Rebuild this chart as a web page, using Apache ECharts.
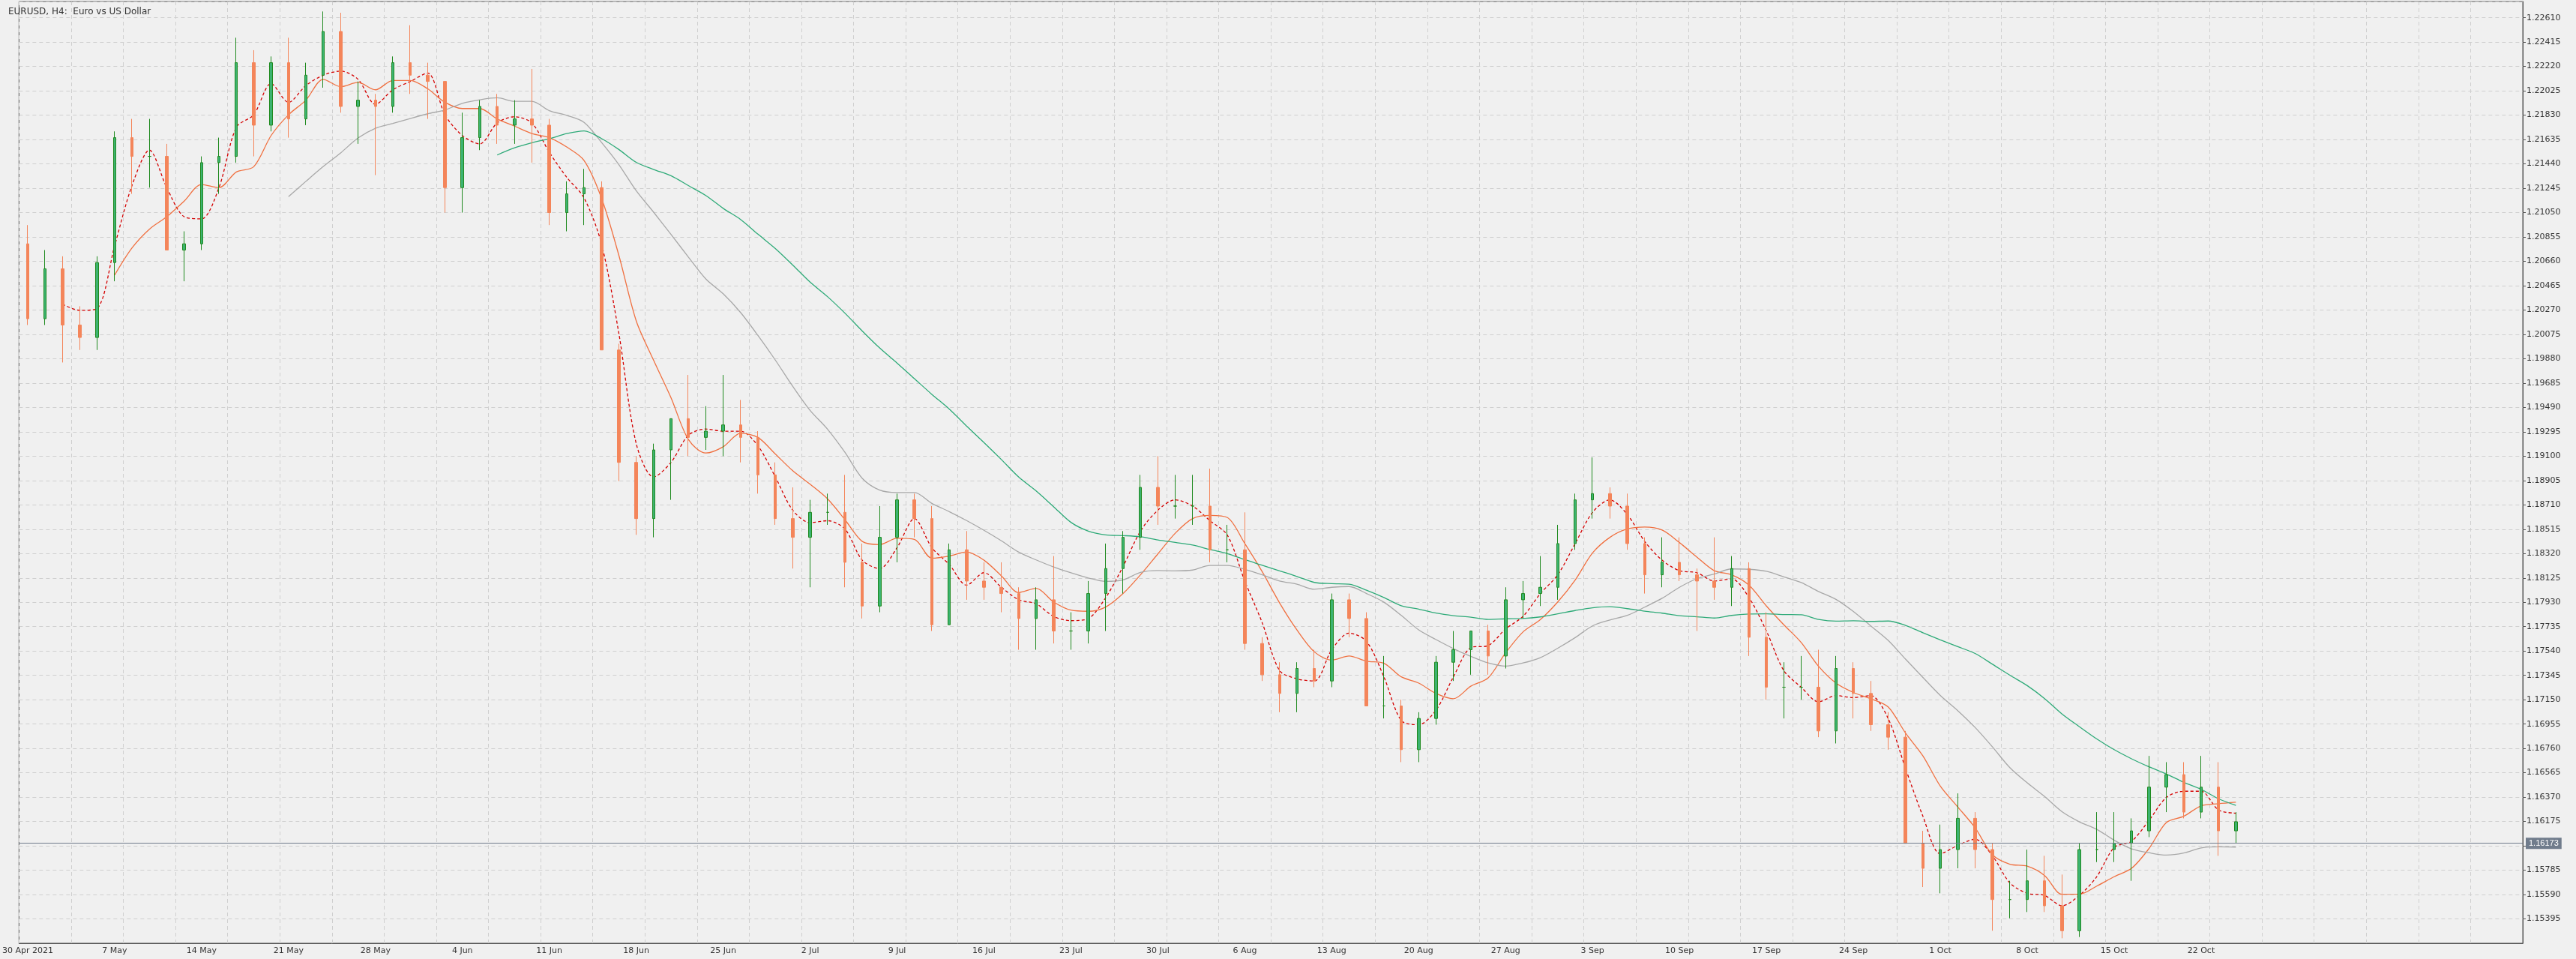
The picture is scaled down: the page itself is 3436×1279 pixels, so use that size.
<!DOCTYPE html>
<html>
  <head>
    <title></title>
    <meta charset="UTF-8" />
    <script src="https://cdn.jsdelivr.net/npm/echarts@6/dist/echarts.min.js"></script>
    <style>body{margin:0;background:#f0f0f0}</style>
  </head>
  <body>
    <div id="main"></div>
    <script>
      const width = 3436;
      const height = 1279;
      const main = document.getElementById('main');
      main.style.width = `${width}px`;
      main.style.height = `${height}px`;

      // one bar per trading day, 30 Apr 2021 .. 26 Oct 2021
      const dates = ['30 Apr 2021','3 May','4 May','5 May','6 May','7 May','10 May','11 May','12 May','13 May','14 May',
        '17 May','18 May','19 May','20 May','21 May','24 May','25 May','26 May','27 May','28 May',
        '31 May','1 Jun','2 Jun','3 Jun','4 Jun','7 Jun','8 Jun','9 Jun','10 Jun','11 Jun',
        '14 Jun','15 Jun','16 Jun','17 Jun','18 Jun','21 Jun','22 Jun','23 Jun','24 Jun','25 Jun',
        '28 Jun','29 Jun','30 Jun','1 Jul','2 Jul','5 Jul','6 Jul','7 Jul','8 Jul','9 Jul',
        '12 Jul','13 Jul','14 Jul','15 Jul','16 Jul','19 Jul','20 Jul','21 Jul','22 Jul','23 Jul',
        '26 Jul','27 Jul','28 Jul','29 Jul','30 Jul','2 Aug','3 Aug','4 Aug','5 Aug','6 Aug',
        '9 Aug','10 Aug','11 Aug','12 Aug','13 Aug','16 Aug','17 Aug','18 Aug','19 Aug','20 Aug',
        '23 Aug','24 Aug','25 Aug','26 Aug','27 Aug','30 Aug','31 Aug','1 Sep','2 Sep','3 Sep',
        '6 Sep','7 Sep','8 Sep','9 Sep','10 Sep','13 Sep','14 Sep','15 Sep','16 Sep','17 Sep',
        '20 Sep','21 Sep','22 Sep','23 Sep','24 Sep','27 Sep','28 Sep','29 Sep','30 Sep','1 Oct',
        '4 Oct','5 Oct','6 Oct','7 Oct','8 Oct','11 Oct','12 Oct','13 Oct','14 Oct','15 Oct',
        '18 Oct','19 Oct','20 Oct','21 Oct','22 Oct','25 Oct','26 Oct'];

      const opens = [1.2080,1.2020,1.2060,1.2015,1.2005,1.2065,1.2165,1.2150,1.2150,1.2075,1.2080,
        1.2145,1.2150,1.2225,1.2175,1.2225,1.2180,1.2215,1.2250,1.2190,1.2195,
        1.2190,1.2225,1.2215,1.2210,1.2125,1.2165,1.2190,1.2175,1.2180,1.2175,
        1.2105,1.2120,1.2125,1.1995,1.1905,1.1860,1.1915,1.1940,1.1925,1.1930,
        1.1935,1.1925,1.1895,1.1860,1.1845,1.1865,1.1865,1.1825,1.1790,1.1845,
        1.1875,1.1860,1.1775,1.1835,1.1810,1.1805,1.1800,1.1780,1.1795,1.1770,
        1.1770,1.1800,1.1820,1.1845,1.1885,1.1870,1.1870,1.1870,1.1835,1.1835,
        1.1760,1.1735,1.1720,1.1740,1.1730,1.1795,1.1780,1.1710,1.1710,1.1675,
        1.1700,1.1745,1.1755,1.1770,1.1750,1.1795,1.1800,1.1805,1.1840,1.1875,
        1.1880,1.1870,1.1840,1.1815,1.1825,1.1815,1.1810,1.1805,1.1820,1.1765,
        1.1725,1.1725,1.1725,1.1690,1.1740,1.1720,1.1695,1.1685,1.1600,1.1580,
        1.1595,1.1620,1.1595,1.1555,1.1555,1.1570,1.1550,1.1530,1.1595,1.1595,
        1.1600,1.1610,1.1645,1.1655,1.1625,1.1645,1.1610];
      const highs = [1.2095,1.2075,1.2070,1.2030,1.2070,1.2170,1.2180,1.2180,1.2160,1.2090,1.2150,
        1.2165,1.2245,1.2235,1.2230,1.2245,1.2225,1.2266,1.2265,1.2210,1.2200,
        1.2230,1.2255,1.2225,1.2210,1.2185,1.2195,1.2200,1.2195,1.2220,1.2180,
        1.2130,1.2140,1.2130,1.2000,1.1910,1.1920,1.1940,1.1975,1.1950,1.1975,
        1.1955,1.1930,1.1905,1.1885,1.1875,1.1880,1.1895,1.1840,1.1870,1.1880,
        1.1880,1.1870,1.1840,1.1850,1.1825,1.1825,1.1805,1.1805,1.1830,1.1785,
        1.1810,1.1840,1.1850,1.1895,1.1910,1.1895,1.1895,1.1900,1.1855,1.1865,
        1.1765,1.1745,1.1745,1.1755,1.1800,1.1800,1.1785,1.1750,1.1715,1.1705,
        1.1750,1.1770,1.1770,1.1775,1.1805,1.1810,1.1830,1.1855,1.1880,1.1909,
        1.1885,1.1880,1.1845,1.1845,1.1845,1.1820,1.1845,1.1830,1.1825,1.1785,
        1.1745,1.1750,1.1755,1.1750,1.1745,1.1730,1.1705,1.1690,1.1610,1.1615,
        1.1640,1.1625,1.1600,1.1570,1.1595,1.1590,1.1575,1.1600,1.1625,1.1625,
        1.1620,1.1670,1.1665,1.1665,1.1670,1.1665,1.1625];
      const lows = [1.2015,1.2015,1.1985,1.1995,1.1995,1.2050,1.2120,1.2125,1.2075,1.2050,1.2075,
        1.2120,1.2145,1.2150,1.2170,1.2165,1.2175,1.2205,1.2185,1.2160,1.2135,
        1.2185,1.2200,1.2180,1.2105,1.2105,1.2155,1.2160,1.2160,1.2145,1.2095,
        1.2090,1.2095,1.1995,1.1890,1.1847,1.1845,1.1875,1.1910,1.1915,1.1910,
        1.1905,1.1880,1.1855,1.1820,1.1805,1.1855,1.1805,1.1780,1.1785,1.1825,
        1.1845,1.1770,1.1775,1.1795,1.1795,1.1785,1.1755,1.1755,1.1760,1.1755,
        1.1760,1.1770,1.1800,1.1835,1.1855,1.1860,1.1855,1.1825,1.1825,1.1755,
        1.1730,1.1705,1.1705,1.1725,1.1725,1.1765,1.1710,1.1700,1.1665,1.1665,
        1.1695,1.1730,1.1735,1.1735,1.1740,1.1780,1.1790,1.1795,1.1835,1.1860,
        1.1860,1.1835,1.1800,1.1805,1.1810,1.1770,1.1795,1.1790,1.1750,1.1715,
        1.1700,1.1715,1.1685,1.1680,1.1700,1.1690,1.1675,1.1600,1.1565,1.1560,
        1.1580,1.1580,1.1530,1.1540,1.1545,1.1545,1.1524,1.1525,1.1585,1.1585,
        1.1570,1.1605,1.1625,1.1620,1.1620,1.1590,1.1600];
      const closes = [1.2020,1.2060,1.2015,1.2005,1.2065,1.2165,1.2150,1.2150,1.2075,1.2080,1.2145,
        1.2150,1.2225,1.2175,1.2225,1.2180,1.2215,1.2250,1.2190,1.2195,1.2190,
        1.2225,1.2215,1.2210,1.2125,1.2165,1.2190,1.2175,1.2180,1.2175,1.2105,
        1.2120,1.2125,1.1995,1.1905,1.1860,1.1915,1.1940,1.1925,1.1930,1.1935,
        1.1925,1.1895,1.1860,1.1845,1.1865,1.1865,1.1825,1.1790,1.1845,1.1875,
        1.1860,1.1775,1.1835,1.1810,1.1805,1.1800,1.1780,1.1795,1.1770,1.1770,
        1.1800,1.1820,1.1845,1.1885,1.1870,1.1870,1.1870,1.1835,1.1835,1.1760,
        1.1735,1.1720,1.1740,1.1730,1.1795,1.1780,1.1710,1.1710,1.1675,1.1700,
        1.1745,1.1755,1.1770,1.1750,1.1795,1.1800,1.1805,1.1840,1.1875,1.1880,
        1.1870,1.1840,1.1815,1.1825,1.1815,1.1810,1.1805,1.1820,1.1765,1.1725,
        1.1725,1.1725,1.1690,1.1740,1.1720,1.1695,1.1685,1.1600,1.1580,1.1595,
        1.1620,1.1595,1.1555,1.1555,1.1570,1.1550,1.1530,1.1595,1.1595,1.1600,
        1.1610,1.1645,1.1655,1.1625,1.1645,1.1610,1.16173];

      const lastPrice = 1.16173;
      const padDays = 16; // empty space right of the last bar

      const cats = dates.concat(Array(padDays).fill(''));
      const candles = dates.map((d, i) => [opens[i], closes[i], lows[i], highs[i]]);

      function sma(n) {
        return closes.map((c, i) => {
          if (i < n - 1) return '-';
          let s = 0;
          for (let k = i - n + 1; k <= i; k++) s += closes[k];
          return +(s / n).toFixed(5);
        });
      }

      const line = (name, data, color, type) => ({
        name, type: 'line', data, symbol: 'none', smooth: 0.3,
        lineStyle: { color, width: 1.3, type: type || 'solid' }, z: 3
      });

      const myChart = echarts.init(main);
      myChart.setOption({
        animation: false,
        backgroundColor: '#f0f0f0',
        title: {
          text: 'EURUSD, H4:  Euro vs US Dollar',
          left: 6, top: 5,
          textStyle: { fontSize: 12, fontWeight: 'normal', color: '#333', fontFamily: 'DejaVu Sans' }
        },
        grid: { left: 2, right: 71, top: 2, bottom: 21, show: true, borderColor: '#555', borderWidth: 1 },
        xAxis: {
          type: 'category',
          data: cats,
          boundaryGap: true,
          axisLine: { lineStyle: { color: '#555' } },
          axisTick: { interval: 4, alignWithLabel: true, lineStyle: { color: '#555' }, length: 4 },
          axisLabel: { interval: 4, color: '#333', fontSize: 11, fontFamily: 'DejaVu Sans', margin: 5 },
          splitLine: { show: true, interval: 2, lineStyle: { color: '#cfcfcf', type: [5, 4] } }
        },
        yAxis: {
          type: 'value',
          position: 'right',
          scale: true,
          min: 1.15200,
          max: 1.22740,
          interval: 0.00195,
          axisLine: { show: true, lineStyle: { color: '#555' } },
          axisTick: { show: true, lineStyle: { color: '#555' }, length: 4 },
          axisLabel: {
            color: '#333', fontSize: 11, fontFamily: 'DejaVu Sans', margin: 5,
            showMinLabel: false, showMaxLabel: false,
            formatter: v => v.toFixed(5)
          },
          splitLine: { show: true, lineStyle: { color: '#cfcfcf', type: [5, 4] } }
        },
        series: [
          {
            name: 'EURUSD',
            type: 'candlestick',
            data: candles,
            barMaxWidth: 4,
            itemStyle: {
              color: '#3cb371', color0: '#f4855a',
              borderColor: '#1f8a1f', borderColor0: '#f4855a', borderWidth: 1
            },
            markLine: {
              symbol: 'none', silent: true, animation: false,
              lineStyle: { color: '#707c8c', width: 1, type: 'solid' },
              label: {
                position: 'end', formatter: lastPrice.toFixed(5), color: '#fff', fontSize: 11,
                backgroundColor: '#707c8c', padding: [2, 4], distance: 4
              },
              data: [{ yAxis: lastPrice }]
            },
            z: 4
          },
          line('fast', sma(3), '#d40000', [4, 3]),
          line('mid', sma(6), '#f07040'),
          line('slow', sma(16), '#a8a8a8'),
          line('long', sma(28), '#2eaa78')
        ]
      });
    </script>
  </body>
</html>
